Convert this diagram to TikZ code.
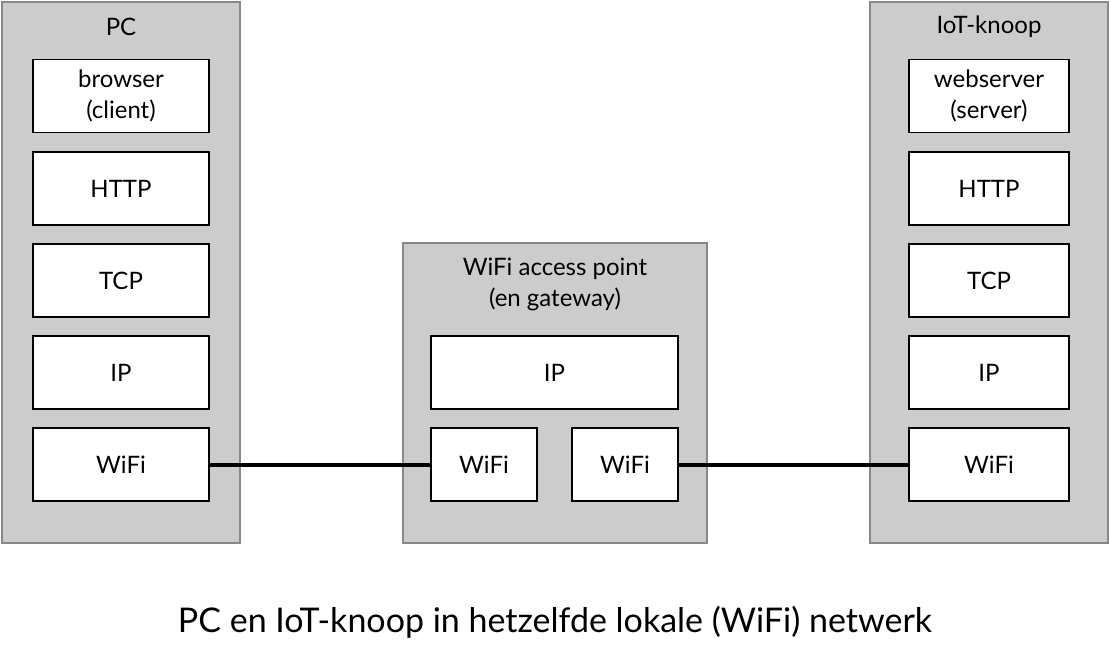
\documentclass[tikz,border=0pt]{standalone}
\usepackage{fontspec}
\setmainfont{Lato}
\usetikzlibrary{positioning}
\definecolor{kastgrijs}{HTML}{CCCCCC}
\definecolor{randgrijs}{HTML}{888888}

\begin{document}
\begin{tikzpicture}[x=0.75pt,y=-0.75pt,
    kast/.style={draw=randgrijs,fill=kastgrijs,line width=1.5pt,inner sep=0pt},
    laag/.style={draw=black,fill=white,line width=1.4pt,minimum height=54.75pt,
      inner sep=0pt,align=center,font=\fontsize{18}{23}\selectfont},
    titel/.style={align=center,font=\fontsize{18}{23}\selectfont},
    verbinding/.style={line width=3pt}]
  \useasboundingbox (0,0) rectangle (1110,652);
  % de drie apparaten
  \node[kast,minimum width=178.5pt,minimum height=405.75pt] (pc) at (121,272.5) {};
  \node[kast,minimum width=178.5pt,minimum height=405.75pt] (iot) at (989,272.5) {};
  \node[kast,minimum width=228pt,minimum height=225pt] (ap) at (555,393) {};
  \node[titel] (pctitel) at (121,27) {PC};
  \node[titel] (iottitel) at (989,27) {IoT-knoop};
  \node[titel] (aptitel) at (555,284.5) {WiFi access point\\(en gateway)};
  % protocollagen
  \node[laag,minimum width=132pt] (pcapp) at (121,96) {browser\\(client)};
  \node[laag,minimum width=120pt] (iotapp) at (989,96) {webserver\\(server)};
  \foreach \naam/\tekst/\y in {http/HTTP/188.5,tcp/TCP/280.5,ip/IP/372.5,wifi/WiFi/464.5}
  {
    \node[laag,minimum width=132pt] (pc\naam) at (121,\y) {\tekst};
    \node[laag,minimum width=120pt] (iot\naam) at (989,\y) {\tekst};
  }
  \node[laag,minimum width=185.25pt] (apip) at (554.5,372.5) {IP};
  \node[laag,minimum width=79.5pt] (apwifia) at (484,464.5) {WiFi};
  \node[laag,minimum width=79.5pt] (apwifib) at (625,464.5) {WiFi};
  % verbindingen
  \draw[verbinding] (pcwifi.east) -- (apwifia.west);
  \draw[verbinding] (apwifib.east) -- (iotwifi.west);
  \node[font=\fontsize{25.5}{30}\selectfont] (onderschrift) at (555,622)
    {PC en IoT-knoop in hetzelfde lokale (WiFi) netwerk};
\end{tikzpicture}
\end{document}
